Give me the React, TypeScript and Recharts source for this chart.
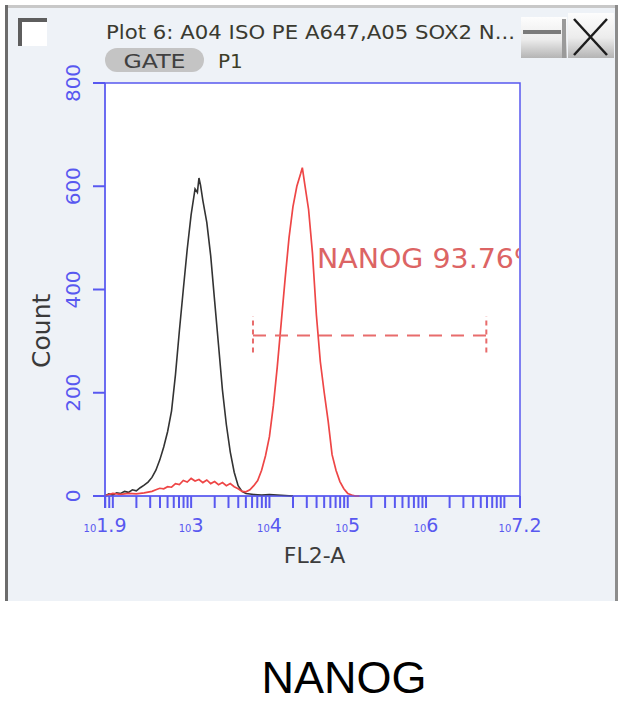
import React from "react";
import {
  LineChart,
  Line,
  XAxis,
  YAxis,
  ReferenceArea,
  ReferenceLine,
  ReferenceDot,
  Label,
} from "recharts";

// FL2-A channel (log10) and counts, isotype control (black)
const isoLog = [
  1.9, 1.95, 2.0, 2.05, 2.1, 2.15, 2.2, 2.25, 2.3, 2.35, 2.4, 2.45, 2.5, 2.55,
  2.6, 2.65, 2.7, 2.75, 2.8, 2.85, 2.9, 2.95, 3.0, 3.05, 3.08, 3.1, 3.12, 3.15,
  3.2, 3.25, 3.3, 3.35, 3.4, 3.45, 3.5, 3.55, 3.6, 3.65, 3.7, 3.8, 3.9, 4.0,
  4.1, 4.2, 4.3,
];
const isoCount = [
  0, 4, 2, 6, 5, 9, 7, 12, 10, 16, 21, 27, 36, 50, 70, 95, 125, 165, 235, 320,
  400, 478, 545, 595, 588, 616, 602, 572, 530, 465, 378, 292, 205, 138, 85, 46,
  20, 9, 5, 3, 2, 3, 2, 1, 0,
];

// NANOG stained sample (red)
const nanogLog = [
  1.9, 1.95, 2.0, 2.1, 2.2, 2.3, 2.4, 2.5, 2.55, 2.6, 2.65, 2.7, 2.75, 2.8,
  2.85, 2.9, 2.95, 3.0, 3.05, 3.1, 3.15, 3.2, 3.25, 3.3, 3.35, 3.4, 3.45, 3.5,
  3.55, 3.6, 3.65, 3.7, 3.75, 3.8, 3.85, 3.9, 3.95, 4.0, 4.05, 4.1, 4.15, 4.2,
  4.25, 4.3, 4.35, 4.4, 4.42, 4.45, 4.5, 4.55, 4.6, 4.65, 4.7, 4.75, 4.8, 4.85,
  4.9, 4.95, 5.0, 5.05, 5.1, 5.15,
];
const nanogCount = [
  0, 3, 5, 3, 5, 4, 6, 9, 12, 15, 14, 18, 17, 24, 22, 30, 27, 34, 29, 32, 26,
  31, 24, 28, 22, 26, 20, 24, 18, 14, 9, 8, 12, 20, 30, 50, 78, 115, 175, 250,
  335, 420, 500, 560, 600, 625, 636, 605, 555, 470, 350, 260, 200, 145, 80, 50,
  28, 14, 5, 2, 0, 0,
];

const yTicks = [0, 200, 400, 600, 800];
const xLabelled = [1.9, 3, 4, 5, 6, 7.2];
const xDomain = [1.9, 7.2];

// marker gate
const gateFrom = 3.79;
const gateTo = 6.77;
const gateLevel = 311;
const gateCap = [278, 348];
const gateText = "NANOG 93.76%";
const gateTextAt = { x: 4.607, y: 441 };

const isoData = isoLog.map((x, i) => ({ x, y: isoCount[i] }));
const nanogData = nanogLog.map((x, i) => ({ x, y: nanogCount[i] }));

// minor log ticks 2..9 x 10^n inside the domain
const xTicks: number[] = [...xLabelled];
for (let d = 1; d <= 7; d++) {
  for (let m = 1; m <= 9; m++) {
    const v = Math.log10(m * Math.pow(10, d));
    if (v > xDomain[0] + 0.001 && v < xDomain[1] && !xTicks.some((t) => Math.abs(t - v) < 0.001))
      xTicks.push(v);
  }
}
xTicks.sort((a, b) => a - b);

const W = 628;
const H = 718;
const margin = { top: 83, right: 108, bottom: 172, left: 60 };
const BLUE = "#5858f0";
const RED = "#ee4646";
const UI_FONT = "'DejaVu Sans', Verdana, sans-serif";

function LogTick({ x, y, payload }: any) {
  const v = payload.value;
  const hit = xLabelled.find((t) => Math.abs(t - v) < 0.001);
  if (hit === undefined) return null;
  return (
    <text x={x} y={y + 24} textAnchor="middle" fill={BLUE} fontFamily={UI_FONT}>
      <tspan fontSize={10}>10</tspan>
      <tspan fontSize={19}>{String(hit)}</tspan>
    </text>
  );
}

function CountTick({ x, y, payload }: any) {
  return (
    <text
      transform={`translate(${x - 11},${y}) rotate(-90)`}
      textAnchor="middle"
      fill={BLUE}
      fontSize={20}
      fontFamily={UI_FONT}
    >
      {payload.value}
    </text>
  );
}

function GateLabel({ viewBox }: any) {
  const plotRight = W - margin.right - 1;
  return (
    <g>
      <defs>
        <clipPath id="gate-text-clip">
          <rect x={0} y={0} width={plotRight} height={H} />
        </clipPath>
      </defs>
      <text
        x={viewBox.x + viewBox.width / 2}
        y={viewBox.y + viewBox.height / 2}
        fill="#dc6464"
        fontSize={26}
        fontFamily={UI_FONT}
        textLength={224}
        lengthAdjust="spacingAndGlyphs"
        clipPath="url(#gate-text-clip)"
      >
        {gateText}
      </text>
    </g>
  );
}

function WindowFrame() {
  return (
    <svg width={W} height={H} style={{ position: "absolute", left: 0, top: 0 }}>
      <defs>
        <linearGradient id="btn" x1="0" y1="0" x2="0" y2="1">
          <stop offset="0" stopColor="#fdfdfd" />
          <stop offset="0.55" stopColor="#ececec" />
          <stop offset="1" stopColor="#b4b4b4" />
        </linearGradient>
      </defs>
      <rect x={5} y={5} width={613} height={596} fill="#eef2f7" />
      <line x1={5} y1={6.5} x2={618} y2={6.5} stroke="#c8c8c8" strokeWidth={3} />
      <line x1={6.5} y1={5} x2={6.5} y2={601} stroke="#6c6c6c" strokeWidth={3} />
      <line x1={616.5} y1={5} x2={616.5} y2={601} stroke="#8c8c8c" strokeWidth={3} />

      {/* checkbox */}
      <rect x={18} y={18} width={29} height={28} fill="#ffffff" />
      <path d="M20 46 V20 H47" fill="none" stroke="#5e5e5e" strokeWidth={4} />

      <text
        x={106}
        y={39}
        fontSize={19.5}
        fontFamily={UI_FONT}
        fill="#3a3a30"
        textLength={409}
        lengthAdjust="spacingAndGlyphs"
      >
        Plot 6: A04 ISO PE A647,A05 SOX2 N...
      </text>

      <rect x={105} y={48} width={99} height={24} rx={12} fill="#c4c4c4" />
      <text x={154.5} y={68} textAnchor="middle" fontSize={20} fontFamily={UI_FONT} fill="#404040" textLength={62} lengthAdjust="spacingAndGlyphs">
        GATE
      </text>
      <text x={218} y={68} fontSize={20} fontFamily={UI_FONT} fill="#3e3e28">
        P1
      </text>

      {/* minimise / close buttons */}
      <rect x={521} y={17} width={46} height={41} fill="url(#btn)" />
      <rect x={523} y={30} width={38} height={4} fill="#7a7a7a" />
      <rect x={562} y={19} width={4} height={39} fill="#9a9a9a" />
      <rect x={568} y={13} width={46} height={45} fill="url(#btn)" />
      <line x1={574} y1={19} x2={607} y2={55} stroke="#1c1c1c" strokeWidth={2.5} />
      <line x1={607} y1={19} x2={574} y2={55} stroke="#1c1c1c" strokeWidth={2.5} />

      <text
        x={344}
        y={693}
        textAnchor="middle"
        fontSize={45}
        fontFamily="'Liberation Sans', Arial, sans-serif"
        fill="#000"
      >
        NANOG
      </text>
    </svg>
  );
}

export default function App() {
  return (
    <div style={{ position: "relative", width: W, height: H, background: "#fff" }}>
      <style>{"body{margin:0}"}</style>
      <WindowFrame />
      <div style={{ position: "absolute", left: 0, top: 0 }}>
        <LineChart width={W} height={H} margin={margin}>
          <XAxis
            type="number"
            dataKey="x"
            domain={xDomain}
            ticks={xTicks}
            allowDataOverflow
            height={50}
            tickSize={12}
            tickMargin={0}
            interval={0}
            stroke={BLUE}
            tickLine={{ stroke: BLUE, strokeWidth: 2 }}
            tick={<LogTick />}
          >
            <Label
              content={({ viewBox }: any) => (
                <text
                  x={viewBox.x + viewBox.width / 2 + 2}
                  y={viewBox.y + 67}
                  textAnchor="middle"
                  fontSize={22}
                  fontFamily={UI_FONT}
                  fill="#3c3c3c"
                >
                  FL2-A
                </text>
              )}
            />
          </XAxis>
          <YAxis
            type="number"
            domain={[0, 800]}
            ticks={yTicks}
            width={45}
            tickSize={12}
            stroke={BLUE}
            tickLine={{ stroke: BLUE, strokeWidth: 2 }}
            tick={<CountTick />}
          >
            <Label
              content={({ viewBox }: any) => (
                <text
                  transform={`translate(${viewBox.x - 10},${viewBox.y + viewBox.height * 0.6}) rotate(-90)`}
                  textAnchor="middle"
                  fontSize={25}
                  fontFamily={UI_FONT}
                  fill="#3a3a3a"
                >
                  Count
                </text>
              )}
            />
          </YAxis>
          <ReferenceArea
            x1={xDomain[0]}
            x2={xDomain[1]}
            y1={0}
            y2={800}
            fill="#ffffff"
            fillOpacity={1}
            stroke={BLUE}
            strokeWidth={1.5}
          />
          <Line
            data={isoData}
            dataKey="y"
            type="linear"
            stroke="#333333"
            strokeWidth={1.6}
            dot={false}
            isAnimationActive={false}
          />
          <Line
            data={nanogData}
            dataKey="y"
            type="linear"
            stroke={RED}
            strokeWidth={1.7}
            dot={false}
            isAnimationActive={false}
          />
          <ReferenceLine
            segment={[
              { x: gateFrom, y: gateLevel },
              { x: gateTo, y: gateLevel },
            ]}
            stroke="#e86c6c"
            strokeWidth={2}
            strokeDasharray="13 9"
          />
          <ReferenceLine
            segment={[
              { x: gateFrom, y: gateCap[0] },
              { x: gateFrom, y: gateCap[1] },
            ]}
            stroke="#e86c6c"
            strokeWidth={2}
            strokeDasharray="5 4"
          />
          <ReferenceLine
            segment={[
              { x: gateTo, y: gateCap[0] },
              { x: gateTo, y: gateCap[1] },
            ]}
            stroke="#e86c6c"
            strokeWidth={2}
            strokeDasharray="5 4"
          />
          <ReferenceDot
            x={gateTextAt.x}
            y={gateTextAt.y}
            r={1}
            fill="none"
            stroke="none"
            label={<GateLabel />}
          />
        </LineChart>
      </div>
    </div>
  );
}
